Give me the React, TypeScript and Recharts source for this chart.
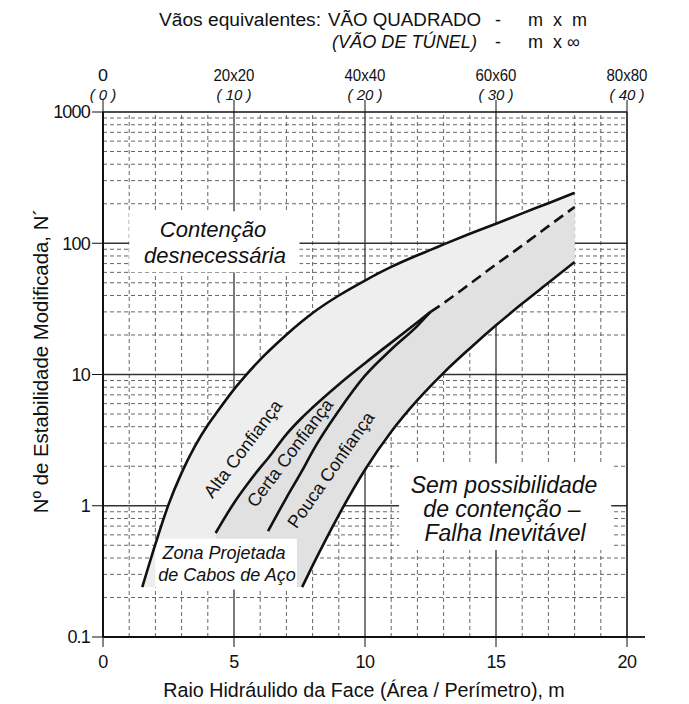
import React from 'react';
import { ComposedChart, Line, Area, XAxis, YAxis, ReferenceLine, ReferenceArea } from 'recharts';

const W = 689;
const H = 704;
const FONT = "'Liberation Sans', Arial, Helvetica, sans-serif";

// Raio hidráulico (m) nos pontos em que as curvas foram lidas
const raio = [1.5, 2, 2.5, 3, 3.5, 4, 4.3, 5, 5.5, 6, 6.3, 7, 7.6, 8, 9, 10, 11, 12, 12.5, 13, 14, 15, 16, 17, 18];

// N' lido em cada curva (null = curva não existe nesse raio)
const altaConfianca = [0.24, 0.51, 1.02, 1.78, 2.82, 4.12, 5.0, 7.7, 10.1, 13.0, 14.9, 20.1, 25.4, 29.4, 40, 52, 66, 81, 89, 98, 118, 141, 169, 202, 242];
const certaConfianca = [null, null, null, null, null, null, 0.62, 1.05, 1.45, 1.95, 2.3, 3.5, 4.7, 5.6, 8.4, 12.2, 17.5, 25, 30, null, null, null, null, null, null];
const poucaConfianca = [null, null, null, null, null, null, null, null, null, null, 0.64, 1.15, 1.85, 2.6, 5.3, 9.8, 15.5, 23.5, 30, null, null, null, null, null, null];
const projetada = [null, null, null, null, null, null, null, null, null, null, null, null, null, null, null, null, null, null, 30, 35, 49, 69, 96, 135, 189];
const limiteFalha = [null, null, null, null, null, null, null, null, null, null, null, null, 0.24, 0.35, 0.85, 1.88, 3.66, 6.37, 8.16, 10.3, 15.8, 23.7, 34.7, 50, 72];
const pisoSombra = 0.24;

// eixos
const xTicks = [0, 5, 10, 15, 20];
const yTicks = [0.1, 1, 10, 100, 1000];
const vaoQuadrado = ['0', '20x20', '40x40', '60x60', '80x80'];
const vaoTunel = ['( 0 )', '( 10 )', '( 20 )', '( 30 )', '( 40 )'];
const gridX = [1, 2, 3, 4, 5, 6, 7, 8, 9, 10, 11, 12, 13, 14, 15, 16, 17, 18, 19];
const gridXMajor = [5, 10, 15];
const gridY = [0.1, 1, 10, 100].flatMap((d) => [2, 3, 4, 5, 6, 7, 8, 9].map((m) => +(d * m).toPrecision(3)));

const data = raio.map((r, i) => {
  const base = limiteFalha[i] ?? pisoSombra;
  const sup = certaConfianca[i] ?? projetada[i];
  return {
    raio: r,
    alta: altaConfianca[i],
    certa: certaConfianca[i],
    pouca: poucaConfianca[i],
    projetada: projetada[i],
    falha: limiteFalha[i],
    faixaClara: [base, altaConfianca[i]],
    faixaEscura: sup == null ? null : [base, sup],
  };
});

const BottomTick = ({ x, payload }: any) => (
  <text x={x} y={668} textAnchor="middle" fontFamily={FONT} fontSize={18} letterSpacing={-0.6} fill="#111">
    {String(payload.value)}
  </text>
);

const LeftTick = ({ x, y, payload }: any) => (
  <text x={x} y={y} dy="0.36em" textAnchor="end" fontFamily={FONT} fontSize={18} letterSpacing={-0.8} fill="#111">
    {String(payload.value)}
  </text>
);

const TopTick = ({ x, payload }: any) => {
  const i = xTicks.indexOf(payload.value);
  const s = vaoQuadrado[i];
  return (
    <g>
      <text x={x} y={81} textAnchor="middle" fontFamily={FONT} fontSize={17} fill="#111"
        textLength={s.length > 1 ? 41 : 10} lengthAdjust="spacingAndGlyphs">{s}</text>
      <text x={x} y={100} textAnchor="middle" fontFamily={FONT} fontSize={15} fontStyle="italic" fill="#111">{vaoTunel[i]}</text>
    </g>
  );
};

const txt = { fontFamily: FONT, fill: '#111' };

export default function App() {
  return (
    <div style={{ position: 'absolute', left: 0, top: 0, width: W, height: H, background: '#fff' }}>
      <ComposedChart width={W} height={H} data={data} margin={{ top: 111, right: 61, bottom: 66, left: 102 }}>
        {gridY.map((v) => (
          <ReferenceLine key={'gy' + v} y={v} stroke="#555" strokeWidth={0.9} strokeDasharray="4 3" zIndex={10} />
        ))}
        {[1, 10, 100].map((v) => (
          <ReferenceLine key={'gY' + v} y={v} stroke="#333" strokeWidth={1.3} zIndex={11} />
        ))}
        {gridX.filter((v) => !gridXMajor.includes(v)).map((v) => (
          <ReferenceLine key={'gx' + v} x={v} stroke="#555" strokeWidth={0.9} strokeDasharray="4 3" zIndex={10} />
        ))}
        {gridXMajor.map((v) => (
          <ReferenceLine key={'gX' + v} x={v} stroke="#333" strokeWidth={1.3} zIndex={11} />
        ))}

        <Area dataKey="faixaClara" type="monotone" stroke="none" fill="#eeeeee" fillOpacity={1} isAnimationActive={false} zIndex={100} />
        <Area dataKey="faixaEscura" type="monotone" stroke="none" fill="#e1e1e1" fillOpacity={1} isAnimationActive={false} zIndex={101} />

        <ReferenceArea x1={1.0} x2={7.5} y1={60} y2={175} fill="#fff" fillOpacity={1} stroke="none" zIndex={150} />
        <ReferenceArea x1={2.0} x2={7.4} y1={0.23} y2={0.56} fill="#fff" fillOpacity={1} stroke="none" zIndex={150} />
        <ReferenceArea x1={11.3} x2={19.4} y1={0.46} y2={2.1} fill="#fff" fillOpacity={1} stroke="none" zIndex={150} />

        <Line dataKey="alta" type="monotone" stroke="#111" strokeWidth={2.6} dot={false} isAnimationActive={false} zIndex={400} />
        <Line dataKey="certa" type="monotone" stroke="#111" strokeWidth={2.6} dot={false} isAnimationActive={false} zIndex={400} />
        <Line dataKey="pouca" type="monotone" stroke="#111" strokeWidth={2.6} dot={false} isAnimationActive={false} zIndex={400} />
        <Line dataKey="projetada" type="monotone" stroke="#111" strokeWidth={2.6} strokeDasharray="11 6" dot={false} isAnimationActive={false} zIndex={400} />
        <Line dataKey="falha" type="monotone" stroke="#111" strokeWidth={2.6} dot={false} isAnimationActive={false} zIndex={400} />

        <XAxis dataKey="raio" type="number" domain={[0, 20]} ticks={xTicks} height={1} tickSize={10}
          stroke="#111" axisLine={{ strokeWidth: 1.8 }} tick={<BottomTick />} allowDataOverflow />
        <XAxis xAxisId="top" dataKey="raio" orientation="top" type="number" domain={[0, 20]} ticks={xTicks} height={1} tickSize={12}
          stroke="#111" axisLine={{ strokeWidth: 1.5 }} tick={<TopTick />} allowDataOverflow />
        <YAxis type="number" scale="log" domain={[0.1, 1000]} ticks={yTicks} width={1} tickSize={11}
          stroke="#111" axisLine={{ strokeWidth: 2 }} tick={<LeftTick />} allowDataOverflow />
        <YAxis yAxisId="dir" orientation="right" type="number" scale="log" domain={[0.1, 1000]} ticks={yTicks}
          width={1} tickSize={12} stroke="#111" axisLine={{ strokeWidth: 1.6 }} tick={false} allowDataOverflow />
      </ComposedChart>

      <svg width={W} height={H} style={{ position: 'absolute', left: 0, top: 0, pointerEvents: 'none' }}>
        {/* prolongamento do eixo inferior */}
        <line x1={627} y1={637} x2={645} y2={637} stroke="#111" strokeWidth={1.8} />

        {/* cabeçalho */}
        <text x={159} y={26} fontSize={18} textLength={162} lengthAdjust="spacingAndGlyphs" {...txt}>Vãos equivalentes:</text>
        <text x={328} y={26} fontSize={18} textLength={153} lengthAdjust="spacingAndGlyphs" {...txt}>VÃO QUADRADO</text>
        <text x={498} y={26} fontSize={18} textAnchor="middle" {...txt}>-</text>
        <text x={528} y={26} fontSize={18} letterSpacing={2.5} {...txt}>m x m</text>
        <text x={332} y={48} fontSize={18} fontStyle="italic" textLength={145} lengthAdjust="spacingAndGlyphs" {...txt}>(VÃO DE TÚNEL)</text>
        <text x={498} y={48} fontSize={18} textAnchor="middle" {...txt}>-</text>
        <text x={528} y={48} fontSize={18} letterSpacing={2.5} {...txt}>m x</text>
        <text x={567} y={48} fontSize={18} {...txt}>∞</text>

        {/* títulos dos eixos */}
        <text x={364} y={697} fontSize={19.7} textAnchor="middle" {...txt}>Raio Hidráulido da Face (Área / Perímetro), m</text>
        <text x={0} y={0} fontSize={20.4} textAnchor="middle" dominantBaseline="central" transform="translate(41,361) rotate(-90)" {...txt}>
          Nº de Estabilidade Modificada,  N´
        </text>

        {/* zonas */}
        <text x={213} y={237} fontSize={22} fontStyle="italic" textAnchor="middle" {...txt}>Contenção</text>
        <text x={215} y={263} fontSize={22} fontStyle="italic" textAnchor="middle" {...txt}>desnecessária</text>

        <text x={504} y={493} fontSize={23} fontStyle="italic" textAnchor="middle" {...txt}>Sem possibilidade</text>
        <text x={502} y={517} fontSize={23} fontStyle="italic" textAnchor="middle" {...txt}>de contenção –</text>
        <text x={505} y={541} fontSize={23} fontStyle="italic" textAnchor="middle" {...txt}>Falha Inevitável</text>

        <text x={224} y={559} fontSize={18} fontStyle="italic" textAnchor="middle" {...txt}>Zona Projetada</text>
        <text x={227} y={581} fontSize={18} fontStyle="italic" textAnchor="middle" {...txt}>de Cabos de Aço</text>

        <text x={0} y={0} fontSize={18} textAnchor="middle" dominantBaseline="central" transform="translate(243,449) rotate(-53)" {...txt}>Alta Confiança</text>
        <text x={0} y={0} fontSize={18} textAnchor="middle" dominantBaseline="central" transform="translate(290,453) rotate(-53)" {...txt}>Certa Confiança</text>
        <text x={0} y={0} fontSize={18} textAnchor="middle" dominantBaseline="central" transform="translate(331,470) rotate(-55)" {...txt}>Pouca Confiança</text>
      </svg>
    </div>
  );
}
